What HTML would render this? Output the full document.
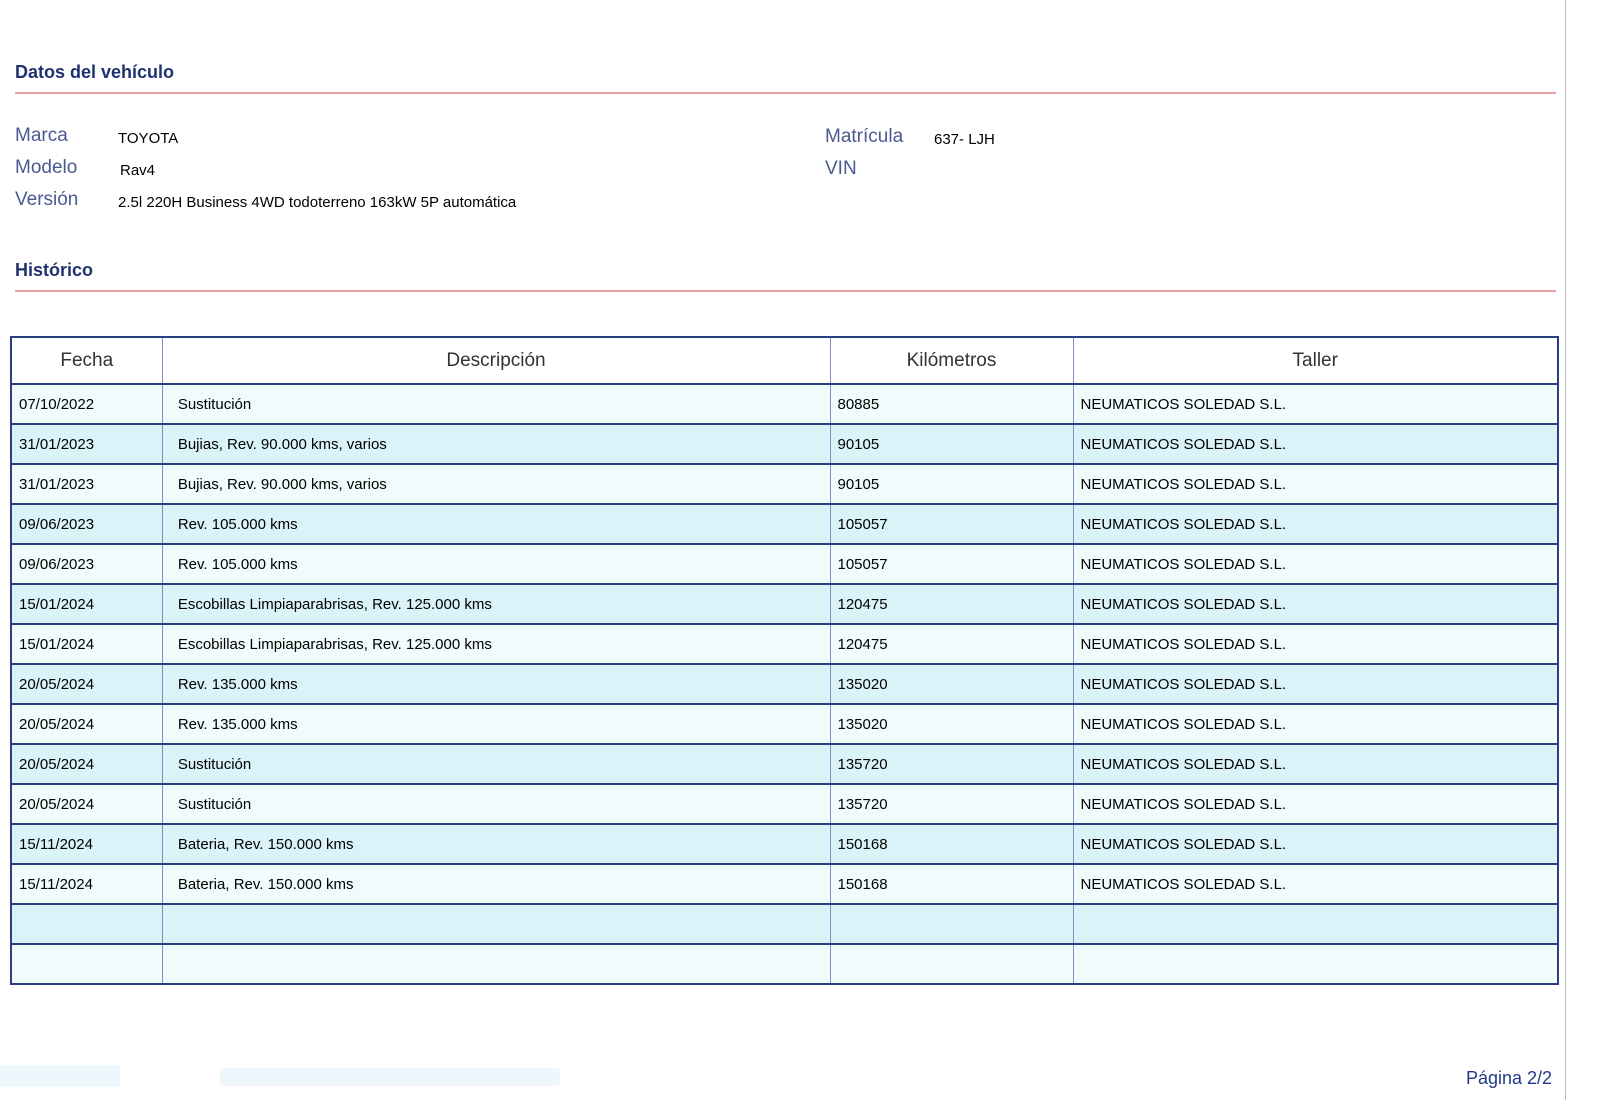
<!DOCTYPE html>
<html><head><meta charset="utf-8"><style>
body{margin:0;width:1600px;height:1117px;background:#fff;position:relative;overflow:hidden;font-family:"Liberation Sans",sans-serif}
.a{position:absolute;white-space:nowrap}
.h{color:#1e3270;font-weight:bold;font-size:18px}
.hr{position:absolute;left:15px;width:1541px;height:2px;background:#eea0a5}
.l{color:#4a5a90;font-size:19px}
.v{color:#000;font-size:15px}
table{position:absolute;left:10px;top:336px;width:1549px;border-collapse:collapse;table-layout:fixed}
td,th{border-left:1px solid #8090c0;border-right:1px solid #8090c0;border-bottom:2px solid #2a3f80;height:38px;padding:0 0 0 7px;font-size:15px;color:#000;text-align:left}
th{font-weight:normal;text-align:center;color:#333;font-size:19px;height:45px;background:#fff;padding:0}
table{border:2px solid #2a3f80}
tr:nth-child(odd) td{background:#f0fbfb}
tr:nth-child(even) td{background:#d9f3f8}
.s{position:absolute;background:#eef7fb;border-radius:4px}
</style></head><body>
<div class="a h" style="left:15px;top:62px">Datos del vehículo</div>
<div class="hr" style="top:92px"></div>
<div class="a l" style="left:15px;top:125px">Marca</div>
<div class="a l" style="left:15px;top:157px">Modelo</div>
<div class="a l" style="left:15px;top:189px">Versión</div>
<div class="a v" style="left:118px;top:130px">TOYOTA</div>
<div class="a v" style="left:120px;top:162px">Rav4</div>
<div class="a v" style="left:118px;top:194px">2.5l 220H Business 4WD todoterreno 163kW 5P automática</div>
<div class="a l" style="left:825px;top:126px">Matrícula</div>
<div class="a l" style="left:825px;top:158px">VIN</div>
<div class="a v" style="left:934px;top:131px">637- LJH</div>
<div class="a h" style="left:15px;top:260px">Histórico</div>
<div class="hr" style="top:290px"></div>
<table>
<colgroup><col style="width:151px"><col style="width:668px"><col style="width:243px"><col></colgroup>
<thead><tr><th>Fecha</th><th>Descripción</th><th>Kilómetros</th><th>Taller</th></tr></thead>
<tbody>
<tr><td>07/10/2022</td><td>&nbsp;&nbsp;Sustitución</td><td>80885</td><td>NEUMATICOS SOLEDAD S.L.</td></tr>
<tr><td>31/01/2023</td><td>&nbsp;&nbsp;Bujias, Rev. 90.000 kms, varios</td><td>90105</td><td>NEUMATICOS SOLEDAD S.L.</td></tr>
<tr><td>31/01/2023</td><td>&nbsp;&nbsp;Bujias, Rev. 90.000 kms, varios</td><td>90105</td><td>NEUMATICOS SOLEDAD S.L.</td></tr>
<tr><td>09/06/2023</td><td>&nbsp;&nbsp;Rev. 105.000 kms</td><td>105057</td><td>NEUMATICOS SOLEDAD S.L.</td></tr>
<tr><td>09/06/2023</td><td>&nbsp;&nbsp;Rev. 105.000 kms</td><td>105057</td><td>NEUMATICOS SOLEDAD S.L.</td></tr>
<tr><td>15/01/2024</td><td>&nbsp;&nbsp;Escobillas Limpiaparabrisas, Rev. 125.000 kms</td><td>120475</td><td>NEUMATICOS SOLEDAD S.L.</td></tr>
<tr><td>15/01/2024</td><td>&nbsp;&nbsp;Escobillas Limpiaparabrisas, Rev. 125.000 kms</td><td>120475</td><td>NEUMATICOS SOLEDAD S.L.</td></tr>
<tr><td>20/05/2024</td><td>&nbsp;&nbsp;Rev. 135.000 kms</td><td>135020</td><td>NEUMATICOS SOLEDAD S.L.</td></tr>
<tr><td>20/05/2024</td><td>&nbsp;&nbsp;Rev. 135.000 kms</td><td>135020</td><td>NEUMATICOS SOLEDAD S.L.</td></tr>
<tr><td>20/05/2024</td><td>&nbsp;&nbsp;Sustitución</td><td>135720</td><td>NEUMATICOS SOLEDAD S.L.</td></tr>
<tr><td>20/05/2024</td><td>&nbsp;&nbsp;Sustitución</td><td>135720</td><td>NEUMATICOS SOLEDAD S.L.</td></tr>
<tr><td>15/11/2024</td><td>&nbsp;&nbsp;Bateria, Rev. 150.000 kms</td><td>150168</td><td>NEUMATICOS SOLEDAD S.L.</td></tr>
<tr><td>15/11/2024</td><td>&nbsp;&nbsp;Bateria, Rev. 150.000 kms</td><td>150168</td><td>NEUMATICOS SOLEDAD S.L.</td></tr>
<tr><td></td><td></td><td></td><td></td></tr>
<tr><td></td><td></td><td></td><td></td></tr>
</tbody></table>
<div class="s" style="left:0;top:1065px;width:120px;height:22px"></div>
<div class="s" style="left:220px;top:1068px;width:340px;height:18px"></div>
<div class="a" style="left:1565px;top:0;width:1px;height:1100px;background:#bbb"></div>
<div class="a" style="left:1466px;top:1068px;color:#1e3a8a;font-size:18px">Página 2/2</div>
</body></html>
